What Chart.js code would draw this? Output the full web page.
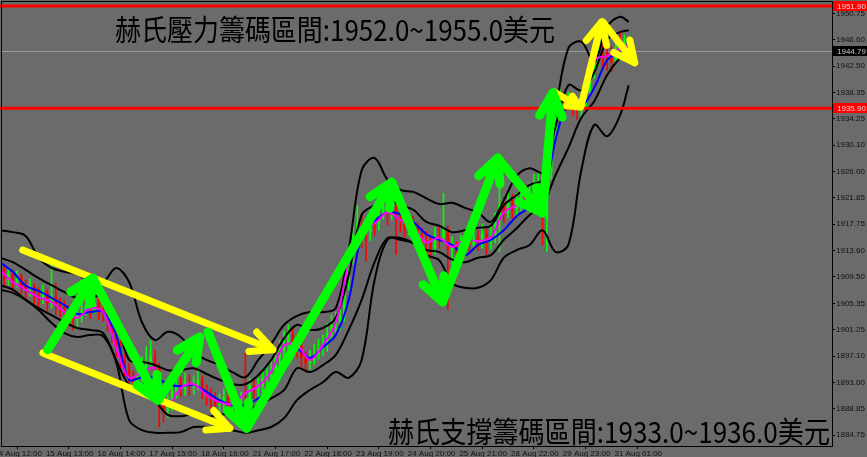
<!DOCTYPE html>
<html>
<head>
<meta charset="utf-8">
<title>XAUUSD H1</title>
<script src="https://cdn.jsdelivr.net/npm/chart.js"></script>
<style>
  html, body { margin: 0; padding: 0; background: #6b6b6b; }
  canvas { display: block; }
</style>
</head>
<body>
<canvas id="chart" width="867" height="457"></canvas>
<script>
// time axis: one unit = one bar, labels every 12 bars
var xTickPos = [-2, 10, 22, 34, 46, 58, 70, 82, 94, 106, 118, 130, 142];
var xTickLabels = ['14 Aug 12:00', '15 Aug 13:00', '16 Aug 14:00', '17 Aug 15:00', '18 Aug 16:00',
    '21 Aug 17:00', '22 Aug 18:00', '23 Aug 19:00', '24 Aug 20:00', '25 Aug 21:00',
    '28 Aug 22:00', '29 Aug 23:00', '31 Aug 01:00'];
var yTickValues = [1950.75, 1946.60, 1942.50, 1938.35, 1934.25, 1930.10, 1926.00, 1921.85, 1917.75,
    1913.60, 1909.50, 1905.35, 1901.25, 1897.10, 1893.00, 1888.85, 1884.75];

// bars
var firstOpen = 1911.0;
var closes = [1910.6,1909.2,1910.0, 1908.7,1909.5,1908.0, 1907.5,1907.9,1906.6, 1906.3,1907.0,1905.4,
    1906.5,1905.0,1904.8, 1904.0,1903.2,1902.8, 1903.1,1904.2,1905.0, 1904.6,1905.4,1904.3,
    1904.0,1902.6,1900.8, 1898.4,1896.5,1895.0, 1893.7,1892.9,1894.0, 1894.6,1896.3,1897.0,
    1895.2,1891.0,1888.6, 1889.4,1891.6,1892.6, 1892.1,1893.0,1892.4, 1892.7,1893.3,1891.8,
    1891.0,1890.2,1889.5, 1889.9,1890.6,1889.4, 1889.6,1888.8,1890.0, 1889.8,1892.5,1891.8,
    1892.4,1893.5,1894.0, 1894.6,1896.8,1898.0, 1898.8,1900.5,1899.0, 1898.8,1896.9,1896.0,
    1896.5,1897.4,1898.2, 1898.8,1900.6,1902.0, 1902.4,1903.3,1908.5, 1912.5,1916.0,1917.8,
    1917.5,1916.6,1918.5, 1917.9,1919.2,1920.5, 1919.6,1920.8,1918.8, 1918.4,1917.4,1918.0,
    1917.1,1916.0,1915.2, 1914.9,1914.0,1915.8, 1915.6,1916.9,1913.8, 1914.2,1913.2,1914.5,
    1915.3,1914.6,1915.6, 1915.1,1916.2,1915.0, 1915.7,1918.0,1920.8, 1919.6,1921.4,1920.2,
    1920.7,1922.6,1921.7, 1922.2,1923.8,1924.2, 1918.5,1925.8,1932.4, 1936.7,1937.5,1936.8,
    1937.2,1936.3,1935.8, 1936.2,1938.5,1941.6, 1943.4,1946.0,1944.6, 1944.1,1943.2,1945.5,
    1945.3,1946.2,1944.8];
var highs = [1912.0,1911.5,1911.0, 1910.6,1910.5,1910.0, 1909.0,1909.2,1908.4, 1907.8,1908.2,1907.6,
    1911.7,1908.5,1906.2, 1905.8,1905.0,1904.4, 1904.5,1905.6,1906.8, 1906.4,1907.0,1906.5,
    1905.8,1905.0,1903.5, 1901.6,1899.5,1897.4, 1896.0,1894.8,1895.5, 1897.0,1898.6,1899.5,
    1898.0,1896.0,1892.0, 1891.0,1892.8,1894.0, 1893.8,1894.5,1894.2, 1894.0,1895.0,1894.0,
    1892.6,1892.0,1891.4, 1891.2,1892.0,1891.5, 1891.0,1890.6,1891.5, 1897.6,1893.6,1893.5,
    1893.8,1895.0,1895.5, 1896.2,1898.2,1899.6, 1901.0,1902.0,1901.4, 1900.5,1899.6,1897.8,
    1898.0,1899.0,1899.8, 1900.4,1902.2,1903.5, 1904.0,1905.5,1910.2, 1914.0,1918.5,1920.6,
    1919.5,1918.8,1920.0, 1920.2,1921.0,1922.4, 1922.0,1922.8,1921.6, 1920.2,1919.6,1919.5,
    1919.0,1918.0,1917.0, 1916.6,1916.0,1917.2, 1917.5,1922.6,1917.5, 1915.8,1915.0,1916.0,
    1916.8,1916.5,1917.0, 1916.8,1917.8,1917.0, 1917.5,1919.5,1924.2, 1922.0,1923.0,1922.4,
    1922.6,1924.5,1924.0, 1924.2,1925.6,1926.0, 1925.0,1927.5,1934.0, 1938.2,1938.8,1938.5,
    1938.4,1937.8,1937.2, 1938.0,1940.0,1944.0, 1946.5,1948.6,1947.2, 1946.2,1945.6,1947.6,
    1948.0,1947.4,1947.0];
var lows = [1905.5,1907.8,1908.2, 1907.0,1907.9,1906.8, 1906.2,1906.5,1905.2, 1904.8,1905.3,1904.0,
    1904.6,1903.6,1903.2, 1902.5,1901.8,1901.2, 1901.6,1902.4,1903.5, 1903.0,1903.8,1902.8,
    1902.5,1901.0,1899.2, 1897.0,1895.0,1893.6, 1892.2,1891.5,1892.0, 1893.0,1893.8,1895.5,
    1893.5,1886.0,1886.8, 1887.5,1888.6,1890.5, 1890.8,1891.0,1891.0, 1891.2,1891.8,1890.4,
    1889.4,1888.8,1887.8, 1888.0,1888.6,1887.6, 1887.4,1886.6,1887.2, 1888.5,1889.0,1890.5,
    1890.8,1891.5,1892.4, 1893.0,1893.8,1895.6, 1897.0,1897.8,1897.2, 1896.8,1895.0,1894.6,
    1895.0,1895.8,1896.6, 1897.2,1897.8,1899.5, 1900.8,1901.2,1902.6, 1907.5,1911.5,1915.0,
    1914.0,1912.0,1915.2, 1916.0,1916.8,1918.5, 1917.5,1918.5,1913.0, 1916.5,1915.8,1916.0,
    1915.5,1914.4,1913.5, 1913.0,1912.4,1913.0, 1914.0,1914.8,1904.4, 1911.5,1911.8,1912.4,
    1913.5,1913.2,1913.8, 1913.6,1914.0,1913.0, 1913.8,1914.8,1913.5, 1918.0,1918.8,1918.6,
    1919.0,1919.8,1920.0, 1920.5,1921.0,1922.4, 1914.5,1913.5,1924.8, 1931.0,1935.6,1935.4,
    1935.8,1934.8,1934.2, 1934.5,1935.6,1937.8, 1940.5,1942.6,1942.0, 1941.8,1941.6,1942.8,
    1944.0,1944.6,1944.0];

// indicator samples (bar index of each sample)
var bandIdx = [0,3,6,9,12,15,18,21,24,27,30,33,36,39,42,45,48,51,54,57,60,63,66,69,72,75,78,81,84,87,
    90,93,96,99,102,105,108,111,114,117,120,123,126,129,132,135,138,141,144,146];
var maFast = [1910.6,1908.7,1907.5,1906.3,1905.6,1904.0,1903.1,1904.6,1904.0,1898.4,
    1893.7,1894.6,1895.2,1889.4,1892.1,1892.7,1891.0,1889.9,1889.6,1891.3,
    1892.4,1894.6,1898.8,1898.8,1896.5,1898.8,1902.4,1911.8,1917.5,1917.9,
    1919.6,1918.4,1917.1,1914.9,1915.6,1914.2,1915.3,1915.1,1915.7,1919.6,
    1920.7,1922.2,1923.4,1936.7,1937.2,1936.2,1943.4,1944.1,1945.3,1945.6];
var maSlow = [1911.8,1910.3,1908.1,1907.3,1906.2,1905.1,1903.7,1904.0,1904.0,1900.4,
    1893.4,1893.8,1893.8,1892.7,1892.4,1892.6,1891.5,1890.2,1889.4,1889.4,
    1890.5,1891.8,1894.6,1898.1,1896.8,1898.5,1900.4,1905.9,1915.9,1918.2,
    1919.6,1919.3,1918.1,1916.2,1915.3,1914.5,1912.9,1914.5,1915.3,1916.8,
    1919.0,1920.3,1921.5,1930.9,1936.7,1936.2,1939.1,1943.4,1944.7,1945.0];
var outerUpper = [1916.8,1916.5,1915.9,1912.5,1910.9,1910.3,1909.9,1908.7,1908.7,1910.9,
    1908.7,1902.4,1899.6,1900.9,1900.1,1897.7,1896.5,1895.7,1894.6,1893.8,
    1896.5,1899.0,1902.0,1903.4,1904.0,1904.0,1904.6,1913.7,1926.2,1928.1,
    1924.7,1923.1,1922.8,1921.8,1920.9,1921.1,1920.3,1919.6,1918.1,1921.5,
    1925.3,1926.5,1925.9,1935.6,1945.3,1946.3,1943.1,1948.6,1950.2,1949.4];
var innerUpper = [1912.5,1911.8,1910.6,1909.3,1908.2,1907.1,1906.2,1906.5,1906.2,1902.7,
    1896.5,1896.2,1895.7,1894.9,1894.9,1895.2,1894.3,1893.4,1892.7,1892.7,
    1894.1,1896.5,1899.9,1902.0,1901.2,1901.5,1903.1,1909.8,1919.2,1920.7,
    1921.5,1920.7,1920.0,1918.1,1917.5,1916.5,1916.8,1917.2,1917.5,1920.7,
    1922.3,1923.9,1924.7,1933.0,1939.5,1938.7,1941.5,1946.6,1947.8,1948.1];
var innerLower = [1908.2,1907.5,1905.9,1904.6,1903.5,1902.4,1901.5,1901.2,1900.7,1896.5,
    1892.6,1892.1,1890.2,1887.9,1887.7,1888.0,1887.6,1887.9,1888.2,1888.7,
    1889.4,1890.5,1891.8,1895.2,1894.6,1895.7,1897.3,1901.2,1905.9,1911.8,
    1915.6,1915.3,1914.8,1913.7,1913.4,1912.2,1911.8,1912.5,1912.9,1915.3,
    1917.1,1919.2,1920.7,1925.4,1929.7,1934.4,1937.0,1941.1,1943.8,1944.7];
var outerLower = [1907.5,1907.0,1905.9,1904.3,1902.3,1900.7,1900.1,1900.4,1900.2,1896.2,
    1887.1,1885.5,1885.1,1885.1,1885.2,1886.0,1886.0,1885.8,1885.5,1885.1,
    1885.5,1886.0,1887.4,1890.2,1891.8,1893.0,1894.6,1893.7,1896.5,1909.0,
    1915.3,1915.6,1914.8,1912.9,1912.1,1908.5,1907.8,1907.8,1909.0,1912.5,
    1913.7,1914.5,1916.8,1913.4,1914.5,1926.2,1933.3,1931.5,1934.8,1939.5];

// levels
var redLevels = [1951.90, 1935.90];
var lastPrice = 1944.79;

// hand drawn arrows: [fromBar, fromPrice, toBar, toPrice]
var yellowArrows = [[5.3, 1913.7, 63.4, 1898.1], [10.0, 1897.6, 53.4, 1885.8],
    [128.8, 1938.4, 134.6, 1936.1], [134.9, 1936.1, 139.7, 1949.4], [140.0, 1949.4, 147.4, 1943.0]];
var greenArrows = [[11.1, 1898.1, 21.6, 1909.3], [21.6, 1909.3, 36.7, 1890.2], [36.7, 1890.2, 46.4, 1900.1],
    [48.3, 1900.9, 57.3, 1885.8], [57.3, 1885.8, 91.0, 1924.3], [91.0, 1924.3, 102.8, 1905.6],
    [102.8, 1905.6, 115.6, 1928.1], [115.6, 1928.1, 126.0, 1919.5], [126.0, 1919.5, 128.4, 1938.3]];

var topNote = '赫氏壓力籌碼區間:1952.0~1955.0美元';
var bottomNote = '赫氏支撐籌碼區間:1933.0~1936.0美元';

var opens = closes.map(function (c, i) { return i === 0 ? firstOpen : closes[i - 1]; });
var barColors = closes.map(function (c, i) { return c >= opens[i] ? '#00ff00' : '#ff0000'; });

function series(values) {
    return values.map(function (v, k) { return { x: bandIdx[k], y: v }; });
}
function lineSet(values, color) {
    return { type: 'line', data: series(values), borderColor: color, borderWidth: 2,
        pointRadius: 0, tension: 0.35, fill: false };
}

function drawArrow(ctx, x1, y1, x2, y2, color, width, head) {
    var ang = Math.atan2(y2 - y1, x2 - x1);
    var len = Math.hypot(x2 - x1, y2 - y1);
    var h = Math.min(head, len * 0.45);
    ctx.strokeStyle = color;
    ctx.lineWidth = width;
    ctx.lineCap = 'round';
    ctx.lineJoin = 'round';
    ctx.beginPath();
    ctx.moveTo(x1, y1);
    ctx.lineTo(x2, y2);
    [-1, 1].forEach(function (s) {
        var a = ang + Math.PI + s * 0.45;
        ctx.moveTo(x2, y2);
        ctx.lineTo(x2 + h * Math.cos(a), y2 + h * Math.sin(a));
    });
    ctx.stroke();
}

var overlay = {
    id: 'overlay',
    beforeDatasetsDraw: function (chart) {
        var ctx = chart.ctx, a = chart.chartArea, y = chart.scales.y.getPixelForValue(lastPrice);
        ctx.save();
        ctx.strokeStyle = '#9a9a9a';
        ctx.lineWidth = 1;
        ctx.beginPath();
        ctx.moveTo(a.left, Math.round(y) + 0.5);
        ctx.lineTo(a.right, Math.round(y) + 0.5);
        ctx.stroke();
        ctx.restore();
    },
    afterDatasetsDraw: function (chart) {
        var ctx = chart.ctx, a = chart.chartArea, xs = chart.scales.x, ys = chart.scales.y;
        ctx.save();
        ctx.strokeStyle = '#ff0000';
        ctx.lineWidth = 3;
        redLevels.forEach(function (v) {
            var y = ys.getPixelForValue(v);
            ctx.beginPath();
            ctx.moveTo(0, y);
            ctx.lineTo(a.right + 2, y);
            ctx.stroke();
        });
        yellowArrows.forEach(function (r) {
            drawArrow(ctx, xs.getPixelForValue(r[0]), ys.getPixelForValue(r[1]),
                xs.getPixelForValue(r[2]), ys.getPixelForValue(r[3]), '#ffff00', 7, 24);
        });
        greenArrows.forEach(function (r) {
            drawArrow(ctx, xs.getPixelForValue(r[0]), ys.getPixelForValue(r[1]),
                xs.getPixelForValue(r[2]), ys.getPixelForValue(r[3]), '#00ff00', 9, 26);
        });
        ctx.fillStyle = '#000000';
        ctx.textBaseline = 'middle';
        ctx.textAlign = 'left';
        ctx.font = '29px "Noto Sans CJK TC"';
        ctx.fillText(topNote, 115, 30, 440);
        ctx.fillText(bottomNote, 388, 432, 442);
        ctx.restore();
    },
    afterDraw: function (chart) {
        var ctx = chart.ctx, a = chart.chartArea, ys = chart.scales.y;
        ctx.save();
        ctx.strokeStyle = '#000000';
        ctx.lineWidth = 1;
        ctx.strokeRect(a.left - 0.5, a.top - 0.5, a.right - a.left + 1, a.bottom - a.top + 1);
        ctx.font = '8px "Liberation Sans"';
        ctx.textBaseline = 'middle';
        ctx.textAlign = 'left';
        function box(v, bg, fg) {
            var y = Math.round(ys.getPixelForValue(v));
            ctx.fillStyle = bg;
            ctx.fillRect(a.right + 1, y - 5, 34, 10);
            ctx.fillStyle = fg;
            ctx.fillText(v.toFixed(2), a.right + 5, y + 0.5);
        }
        redLevels.forEach(function (v) { box(v, '#ff0000', '#ffd0d0'); });
        box(lastPrice, '#000000', '#c8c8c8');
        ctx.restore();
    }
};

new Chart(document.getElementById('chart'), {
    type: 'bar',
    data: {
        datasets: [
            lineSet(maFast, '#ff00ff'),
            lineSet(maSlow, '#0000ff'),
            lineSet(outerUpper, '#000000'),
            lineSet(innerUpper, '#000000'),
            lineSet(innerLower, '#000000'),
            lineSet(outerLower, '#000000'),
            {
                data: closes.map(function (c, i) { return { x: i, y: [opens[i], c] }; }),
                backgroundColor: barColors, barThickness: 2, grouped: false
            },
            {
                data: closes.map(function (c, i) { return { x: i, y: [lows[i], highs[i]] }; }),
                backgroundColor: barColors, barThickness: 1, grouped: false
            }
        ]
    },
    options: {
        responsive: false,
        animation: false,
        layout: { padding: { left: 2, top: 2, right: 0, bottom: 0 } },
        plugins: { legend: { display: false }, tooltip: { enabled: false } },
        scales: {
            x: {
                type: 'linear', min: 0.5, max: 193.2, offset: false, bounds: 'data',
                grid: { drawOnChartArea: false, color: '#000000', tickLength: 3 },
                border: { display: true, color: '#000000' },
                afterBuildTicks: function (scale) {
                    scale.ticks = xTickPos.map(function (v) { return { value: v }; });
                },
                afterFit: function (scale) {
                    scale.height = 11;
                    scale.paddingLeft = 0;
                    scale.paddingRight = 0;
                },
                ticks: {
                    autoSkip: false, maxRotation: 0, align: 'start', labelOffset: 3, padding: 0,
                    color: '#111111', font: { family: 'Liberation Sans', size: 8 },
                    callback: function (v, i) { return xTickLabels[i]; }
                }
            },
            y: {
                type: 'linear', position: 'right', min: 1883.03, max: 1952.52, bounds: 'data',
                grid: { drawOnChartArea: false, color: '#000000', tickLength: 3 },
                border: { display: true, color: '#000000' },
                afterBuildTicks: function (scale) {
                    scale.ticks = yTickValues.map(function (v) { return { value: v }; });
                },
                afterFit: function (scale) {
                    scale.width = 35;
                    scale.paddingTop = 0;
                    scale.paddingBottom = 0;
                },
                ticks: {
                    padding: 1, color: '#111111', font: { family: 'Liberation Sans', size: 8 },
                    callback: function (v) { return Number(v).toFixed(2); }
                }
            }
        }
    },
    plugins: [overlay]
});
</script>
</body>
</html>
